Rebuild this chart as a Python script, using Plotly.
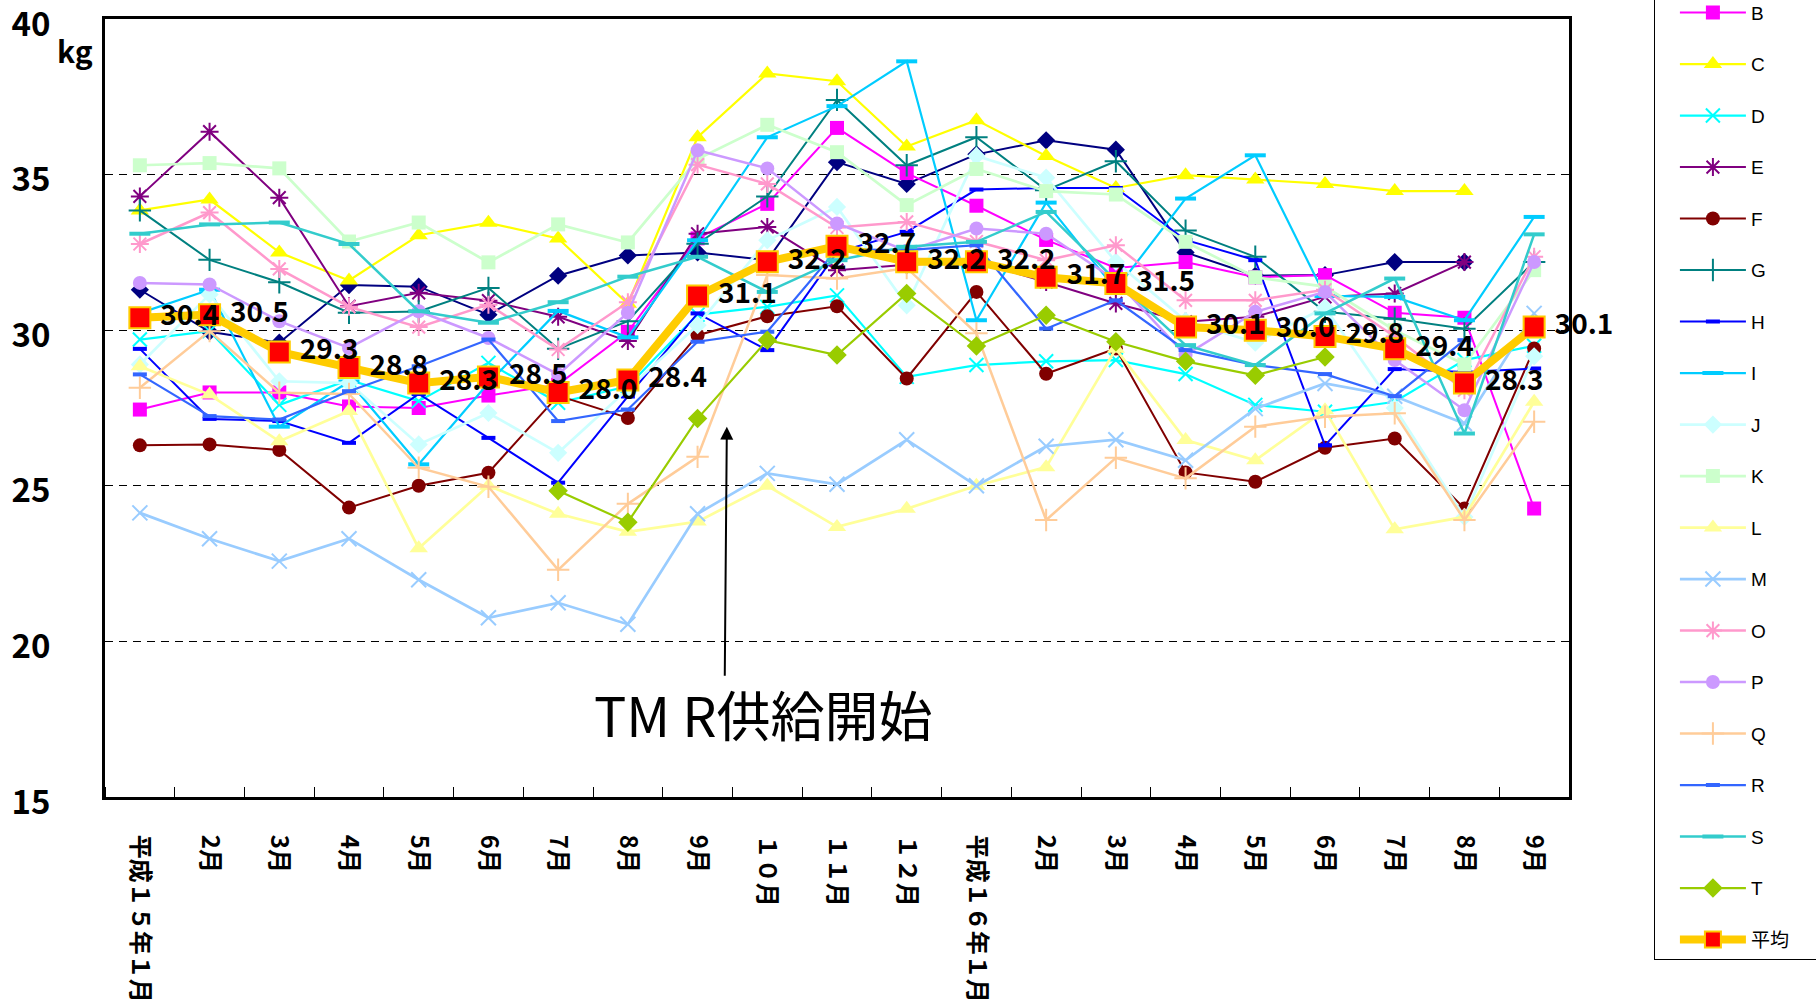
import plotly.graph_objects as go

# Monthly feed intake per farm (kg), Heisei 15 Jan .. Heisei 16 Sep
months = ["平成１５年１月", "2月", "3月", "4月", "5月", "6月", "7月", "8月", "9月",
          "１０月", "１１月", "１２月", "平成１６年１月", "2月", "3月", "4月", "5月",
          "6月", "7月", "8月", "9月"]
x_idx = list(range(len(months)))
y_ticks = [15, 20, 25, 30, 35, 40]

N = None
farm_a = [31.3, 29.95, 29.6, 31.45, 31.4, 30.5, 31.75, 32.4, 32.5, 32.25, 35.4,
          34.7, 35.65, 36.1, 35.8, 32.5, 31.75, 31.77, 32.19, 32.19, N]
farm_b = [27.45, 28.0, 28.0, 27.55, 27.5, 27.9, 28.25, 29.95, 32.95, 34.06, 36.5,
          35.05, 34.0, 32.9, 32.0, 32.19, 31.7, 31.77, 30.56, 30.4, 24.27]
farm_c = [33.85, 34.2, 32.5, 31.6, 33.05, 33.45, 32.95, 30.85, 36.2, 38.25, 38.0,
          35.9, 36.75, 35.6, 34.57, 34.98, 34.84, 34.7, 34.47, 34.47, N]
farm_d = [29.7, 29.97, 27.6, 28.4, 27.72, 28.95, 27.67, 28.2, 30.5, 30.75, 31.12,
          28.5, 28.88, 29.0, 29.04, 28.59, 27.6, 27.38, 27.7, 29.04, 29.5]
farm_e = [34.3, 36.38, 34.26, 30.77, 31.2, 30.95, 30.43, 29.65, 33.1, 33.32, 31.93,
          32.1, 32.2, 31.55, 30.86, 30.27, 30.43, 31.07, 31.18, 32.19, N]
farm_f = [26.3, 26.33, 26.15, 24.3, 25.0, 25.42, 27.9, 27.18, 29.84, 30.45, 30.77,
          28.45, 31.23, 28.6, 29.41, 25.43, 25.13, 26.22, 26.52, 24.27, 29.41]
farm_g = [33.85, 32.26, 31.54, 30.56, 30.6, 31.36, 29.4, 30.29, 32.78, 34.3, 37.4,
          35.3, 36.2, 34.5, 35.43, 33.2, 32.36, 30.59, 30.37, 30.05, 32.19]
farm_h = [29.4, 27.15, 27.08, 26.38, 27.95, 26.54, 25.1, 27.87, 30.54, 29.36, 32.5,
          33.16, 34.52, 34.57, 34.57, 32.9, 32.25, 26.3, 28.75, 28.66, 28.77]
farm_i = [30.55, 31.3, 26.9, 28.35, 25.69, 28.3, 30.62, 29.77, 32.89, 36.2, 37.2,
          38.64, 30.32, 34.1, 31.3, 34.23, 35.62, 31.1, 31.07, 30.32, 33.64]
farm_j = [28.9, 31.15, 28.36, 28.3, 26.33, 27.34, 26.06, 28.1, 30.16, 32.89, 33.96,
          30.8, 35.6, 34.9, 32.2, 30.3, 29.6, 30.73, 27.5, 24.0, 29.16]
farm_k = [35.3, 35.37, 35.2, 32.85, 33.46, 32.18, 33.4, 32.82, 35.5, 36.6, 35.72,
          34.02, 35.18, 34.47, 34.36, 32.84, 31.7, 31.4, 30.0, 28.9, 31.93]
farm_l = [28.84, 27.93, 26.43, 27.4, 22.99, 25.0, 24.1, 23.52, 23.85, 25.0, 23.68,
          24.26, 25.0, 25.6, 29.4, 26.47, 25.82, 27.43, 23.6, 24.0, 27.7]
farm_m = [24.13, 23.3, 22.58, 23.3, 21.98, 20.76, 21.24, 20.55, 24.1, 25.4, 25.05,
          26.48, 25.0, 26.27, 26.48, 25.82, 27.48, 28.29, 27.88, 27.0, 30.54]
farm_o = [32.77, 33.78, 31.97, 30.75, 30.1, 30.82, 29.38, 30.9, 35.32, 34.7, 33.3,
          33.48, 32.85, 32.25, 32.73, 30.96, 30.96, 31.3, 29.8, 28.07, 32.36]
farm_p = [31.52, 31.47, 30.29, 29.43, 30.61, 29.75, 28.58, 30.56, 35.78, 35.2, 33.43,
          32.55, 33.27, 33.1, 31.6, 29.2, 30.59, 31.23, 29.04, 27.43, 32.19]
farm_q = [28.15, 29.97, 27.99, 27.95, 25.58, 24.97, 22.3, 24.42, 25.93, 31.77, 31.66,
          32.0, 29.9, 23.9, 25.9, 25.24, 26.9, 27.22, 27.33, 23.9, 27.06]
farm_r = [28.58, 27.24, 27.13, 28.04, 28.84, 29.7, 27.08, 27.45, 29.63, 29.95, 32.6,
          32.57, 32.73, 30.05, 30.96, 29.36, 28.88, 28.59, 27.88, 29.68, N]
farm_s = [33.1, 33.4, 33.46, 32.77, 30.61, 30.24, 30.9, 31.72, 32.36, 31.23, 32.25,
          32.68, 32.84, 33.8, 31.6, 29.52, 28.88, 30.54, 31.66, 26.68, 33.08]
farm_t = [N, N, N, N, N, N, 24.84, 23.83, 27.16, 29.68, 29.2, 31.18, 29.49, 30.48,
          29.63, 29.0, 28.55, 29.14, N, N, N]
average = [30.4, 30.5, 29.3, 28.8, 28.3, 28.5, 28.0, 28.4, 31.1, 32.2, 32.7, 32.2,
           32.2, 31.7, 31.5, 30.1, 30.0, 29.8, 29.4, 28.3, 30.1]

# name, values, colour, marker symbol, marker size, line width
farms = [
    ("A", farm_a, "#000080", "diamond", 14, 2.0),
    ("B", farm_b, "#FF00FF", "square", 14, 2.0),
    ("C", farm_c, "#FFFF00", "triangle-up", 16, 2.2),
    ("D", farm_d, "#00FFFF", "x-thin", 14, 2.2),
    ("E", farm_e, "#800080", "asterisk", 15, 2.0),
    ("F", farm_f, "#800000", "circle", 14, 2.0),
    ("G", farm_g, "#008080", "cross-thin", 16, 2.0),
    ("H", farm_h, "#0000FF", "line-ew", 10, 2.0),
    ("I", farm_i, "#00CCFF", "line-ew", 15, 2.2),
    ("J", farm_j, "#CCFFFF", "diamond", 14, 2.7),
    ("K", farm_k, "#CCFFCC", "square", 14, 2.7),
    ("L", farm_l, "#FFFF99", "triangle-up", 16, 2.7),
    ("M", farm_m, "#99CCFF", "x-thin", 15, 2.7),
    ("O", farm_o, "#FF99CC", "asterisk", 15, 2.5),
    ("P", farm_p, "#CC99FF", "circle", 14, 2.5),
    ("Q", farm_q, "#FFCC99", "cross-thin", 16, 2.5),
    ("R", farm_r, "#3366FF", "line-ew", 10, 2.2),
    ("S", farm_s, "#33CCCC", "line-ew", 15, 2.5),
    ("T", farm_t, "#99CC00", "diamond", 15, 2.2),
]

open_symbols = {"x-thin", "asterisk", "cross-thin", "line-ew"}

fig = go.Figure()
for name, vals, color, symbol, msize, lw in farms:
    if symbol in open_symbols:
        mline = dict(color=color, width=4 if symbol == "line-ew" else 2)
    else:
        mline = dict(color=color, width=0)
    fig.add_trace(go.Scatter(
        x=x_idx, y=vals, name=name, legendgroup=name, mode="lines+markers",
        line=dict(color=color, width=lw),
        marker=dict(symbol=symbol, size=msize, color=color, line=mline),
    ))

# herd average, labelled with its value
fig.add_trace(go.Scatter(
    x=x_idx, y=average, name="平均" + "\u00a0" * 14, legendgroup="avg",
    mode="lines+markers+text", cliponaxis=False,
    line=dict(color="#FFCC00", width=8),
    marker=dict(symbol="square", size=21, color="#FF0000",
                line=dict(color="#FFCC00", width=2)),
    text=["\u00a0" + f"{v:.1f}" for v in average], textposition="middle right",
    textfont=dict(size=28, color="black", family="Noto Sans CJK JP", weight="bold"),
))

fig.update_layout(
    width=1816, height=1004,
    margin=dict(l=105, r=247, t=19, b=207, autoexpand=False),
    paper_bgcolor="white", plot_bgcolor="white",
    font=dict(family="Noto Sans CJK JP", color="black"),
    showlegend=True,
    legend=dict(
        x=1.058, xanchor="left", y=1.100, yanchor="top", yref="paper",
        bordercolor="black", borderwidth=1, bgcolor="white",
        font=dict(size=19, family="Liberation Sans, Noto Sans CJK JP", color="black"),
        itemwidth=66, tracegroupgap=23.8, maxheight=1500, indentation=20,
    ),
    xaxis=dict(
        range=[-0.5, 20.5], tickmode="array", tickvals=x_idx, ticktext=months,
        tickangle=90, ticks="", ticklabelstandoff=30,
        tickfont=dict(size=24, family="Noto Sans CJK JP", weight="bold", color="black"),
        showline=True, linecolor="black", linewidth=3, mirror=True,
        showgrid=False, zeroline=False, ticklabeloverflow="allow",
        minor=dict(tickmode="linear", tick0=0.5, dtick=1, ticks="inside",
                   ticklen=10, tickwidth=1, tickcolor="black", showgrid=False),
    ),
    yaxis=dict(
        range=[15, 40.0001], tickmode="array", tickvals=y_ticks,
        ticktext=[str(v) for v in y_ticks], ticks="",
        ticklabelstandoff=45, ticklabeloverflow="allow", ticklabelshift=5,
        tickfont=dict(size=33, family="Noto Sans CJK JP", weight="bold", color="black"),
        showline=True, linecolor="black", linewidth=3, mirror=True,
        showgrid=True, gridcolor="black", gridwidth=1, griddash="8px,6px",
        zeroline=False,
    ),
    annotations=[
        dict(text="kg", xref="paper", yref="paper", x=-0.0205, y=0.960,
             showarrow=False, xanchor="center", yanchor="middle",
             font=dict(size=30, weight="bold", color="black")),
        dict(text="TM R供給開始", xref="x", yref="y", x=8.94, y=17.67,
             showarrow=False, xanchor="center", yanchor="middle",
             font=dict(size=54, color="black", family="Noto Sans CJK JP")),
        dict(text="", xref="x", yref="y", x=8.42, y=26.9,
             axref="x", ayref="y", ax=8.39, ay=18.85,
             showarrow=True, arrowhead=2, arrowsize=1.3, arrowwidth=2,
             arrowcolor="black"),
    ],
)

fig.write_html("out.html")
